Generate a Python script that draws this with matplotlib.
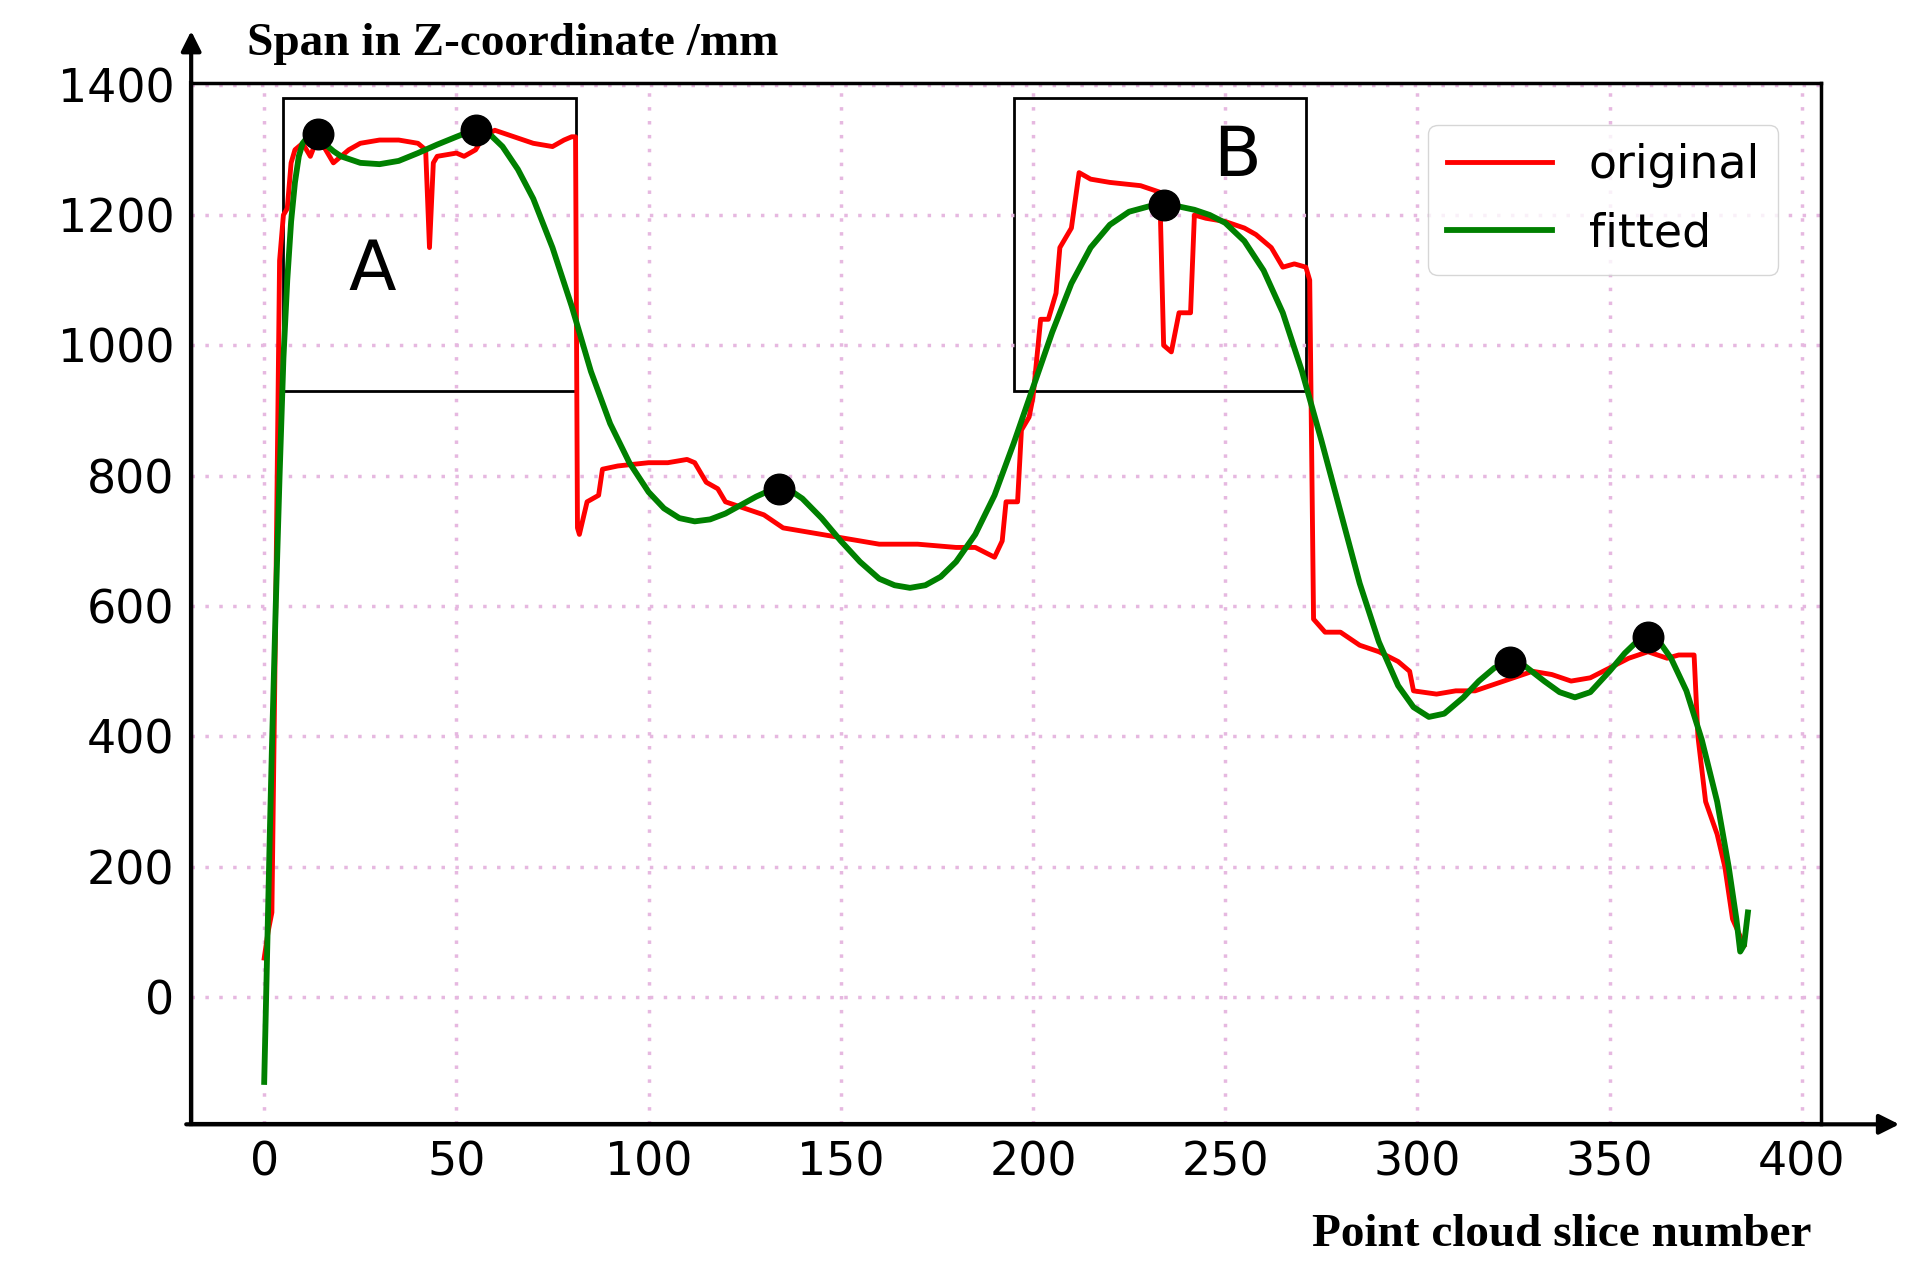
import matplotlib
matplotlib.use("Agg")
import matplotlib.pyplot as plt
from matplotlib.patches import Rectangle, FancyArrowPatch

orig_x = [0, 1, 2, 3, 4, 5, 6, 7, 8, 10, 12, 14, 16, 18, 20, 22, 25, 30, 35, 40, 42, 43, 44, 45, 50, 52, 55, 57, 60, 65, 70, 75, 78, 80, 81,
          81.5, 82, 84, 87, 88, 92, 100, 105, 110, 112, 115, 118, 120, 125, 130, 135, 140, 145, 150, 155, 160, 170, 180, 185, 190, 192,
          193, 196, 197, 199, 200, 202, 204, 206, 207, 210, 212, 215, 220, 228, 233, 234, 236, 238, 241, 242, 245, 250, 255, 258, 262,
          265, 268, 271, 272, 273, 276, 280, 285, 290, 295, 298, 299, 305, 310, 315, 320, 325, 330, 335, 340, 345, 350, 355, 360, 365,
          368, 372, 373, 375, 378, 380, 382, 385]
orig_y = [60, 100, 130, 600, 1130, 1200, 1210, 1280, 1300, 1310, 1290, 1320, 1300, 1280, 1290, 1300, 1310, 1315, 1315, 1310, 1300, 1150, 1280, 1290, 1295, 1290, 1300, 1320, 1330, 1320, 1310, 1305, 1315, 1320, 1320,
          720, 710, 760, 770, 810, 815, 820, 820, 825, 820, 790, 780, 760, 750, 740, 720, 715, 710, 705, 700, 695, 695, 690, 690, 675, 700,
          760, 760, 870, 890, 920, 1040, 1040, 1080, 1150, 1180, 1265, 1255, 1250, 1245, 1235, 1000, 990, 1050, 1050, 1200, 1195, 1190, 1180, 1170, 1150,
          1120, 1125, 1120, 1100, 580, 560, 560, 540, 530, 515, 500, 470, 465, 470, 470, 480, 490, 500, 495, 485, 490, 505, 520, 530, 520,
          525, 525, 400, 300, 250, 200, 120, 80]

fit_x = [0, 0.5, 1, 1.5, 2, 3, 4, 5, 6, 7, 8, 9, 10, 12, 14, 16, 18, 20, 25, 30, 35, 40, 45, 50, 53, 56, 59, 62, 66, 70, 75, 80, 85, 90, 95,
         100, 104, 108, 112, 116, 120, 124, 128, 131, 134, 137, 140, 145, 150, 155, 160, 164, 168, 172, 176, 180, 185, 190, 195,
         200, 205, 210, 215, 220, 225, 230, 234, 238, 242, 246, 250, 255, 260, 265, 270, 275, 280, 285, 290, 295, 299, 303, 307,
         312, 316, 320, 324, 328, 333, 337, 341, 345, 350, 354, 357, 360, 363, 366, 370, 374, 378, 381, 383, 384, 385, 386]
fit_y = [-130, 0, 130, 260, 380, 600, 800, 980, 1100, 1190, 1250, 1290, 1310, 1325, 1320, 1308, 1298, 1290, 1280, 1278, 1283, 1295, 1308, 1320, 1327, 1330, 1322, 1305, 1270, 1225, 1150, 1060, 960, 880, 820,
         775, 750, 735, 730, 733, 742, 755, 768, 776, 780, 777, 765, 735, 700, 668, 642, 632, 628, 632, 645, 668, 710, 770, 850,
         935, 1020, 1095, 1150, 1185, 1205, 1213, 1215, 1213, 1208, 1200, 1188, 1160, 1115, 1050, 960, 855, 745, 635, 545, 478, 445, 430, 435,
         460, 485, 505, 515, 508, 485, 468, 460, 468, 500, 528, 545, 553, 545, 520, 470, 395, 300, 200, 120, 70, 80, 130]

key_x = [14, 55, 134, 234, 324, 360]
key_y = [1325, 1330, 780, 1215, 515, 553]

xticks = [0, 50, 100, 150, 200, 250, 300, 350, 400]
yticks = [0, 200, 400, 600, 800, 1000, 1200, 1400]

fig = plt.figure(figsize=(19.31, 12.82), dpi=100)
ax = fig.add_axes([0.099, 0.123, 0.844, 0.812])
ax.set_xlim(-19, 405)
ax.set_ylim(-195, 1402)
ax.grid(True, color='#e6b8e0', linestyle=(0, (1, 3)), linewidth=2.5)
ax.set_xticks(xticks)
ax.set_yticks(yticks)
ax.tick_params(labelsize=33, length=0, pad=12)
for s in ['left', 'bottom']:
    ax.spines[s].set_linewidth(3)
for s in ['top', 'right']:
    ax.spines[s].set_linewidth(2.5)

ax.plot(orig_x, orig_y, color='red', lw=3.5, label='original')
ax.plot(fit_x, fit_y, color='green', lw=4.2, label='fitted')
ax.plot(key_x, key_y, 'o', color='black', ms=22, zorder=5)

for x0, x1 in [(5, 81), (195, 271)]:
    ax.add_patch(Rectangle((x0, 930), x1 - x0, 450, fill=False, ec='black', lw=2))
ax.text(28, 1115, 'A', fontsize=50, ha='center', va='center')
ax.text(253, 1290, 'B', fontsize=50, ha='center', va='center')

ax.legend(loc='upper right', fontsize=33, handlelength=2.3, borderpad=0.4, bbox_to_anchor=(0.988, 0.982))

fig.add_artist(FancyArrowPatch((0.099, 0.123), (0.099, 0.978), transform=fig.transFigure,
                               arrowstyle='-|>', mutation_scale=30, lw=3, color='black'))
fig.add_artist(FancyArrowPatch((0.095, 0.123), (0.985, 0.123), transform=fig.transFigure,
                               arrowstyle='-|>', mutation_scale=30, lw=3, color='black'))

fig.text(0.128, 0.966, 'Span in Z-coordinate /mm', fontsize=34, fontweight='bold',
         family='Liberation Serif', ha='left', va='center')
fig.text(0.938, 0.037, 'Point cloud slice number', fontsize=34, fontweight='bold',
         family='Liberation Serif', ha='right', va='center')

fig.savefig('out.png', dpi=100)
